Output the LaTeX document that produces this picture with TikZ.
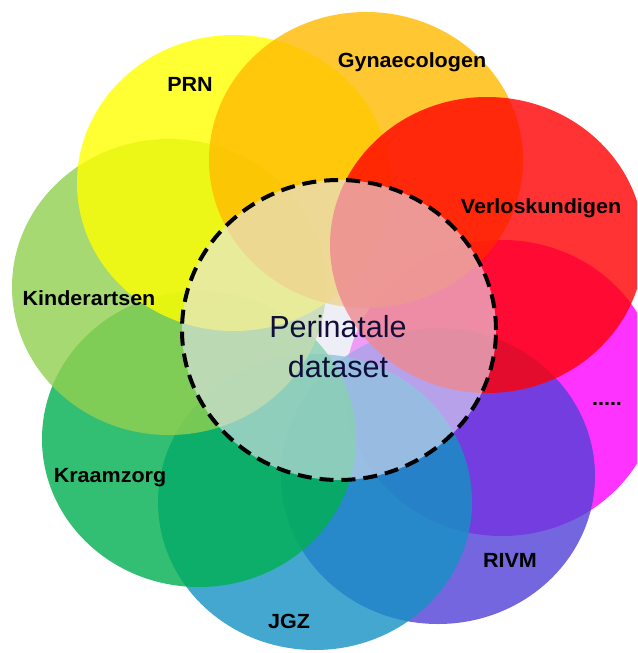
\documentclass[tikz,border=0pt]{standalone}
\usepackage{fontspec}
\setmainfont{Liberation Sans}
\newfontfamily\labfont[FakeStretch=1.05]{Liberation Sans}
\definecolor{cPRN}{RGB}{255,255,0}
\definecolor{cGyn}{RGB}{255,187,0}
\definecolor{cVer}{RGB}{255,0,0}
\definecolor{cMag}{RGB}{255,0,255}
\definecolor{cRIVM}{RGB}{81,64,216}
\definecolor{cJGZ}{RGB}{21,146,196}
\definecolor{cKraam}{RGB}{0,176,80}
\definecolor{cKind}{RGB}{146,208,80}
\definecolor{cOver}{RGB}{228,228,242}
\definecolor{cText}{RGB}{15,15,55}
\tikzset{
  petal/.style={fill=#1, fill opacity=0.8, draw=none},
  lab/.style={font=\labfont\bfseries\fontsize{20.5}{24}\selectfont, text=black, anchor=base, inner sep=0pt},
  centertext/.style={font=\fontsize{30.5}{40}\selectfont, text=cText, align=center, anchor=base, inner sep=0pt}
}
\begin{document}
\begin{tikzpicture}[x=1pt,y=-1pt]
\useasboundingbox (0,0) rectangle (637,653);
\fill[white] (0,0) rectangle (637,653);
\clip (0,0) rectangle (637,653);
% petals, bottom-most first
\fill[petal=cMag]   (502,388) ellipse [x radius=157pt, y radius=148pt];
\fill[petal=cRIVM]  (438,476) ellipse [x radius=157pt, y radius=148pt];
\fill[petal=cJGZ]   (315,502) ellipse [x radius=157pt, y radius=148pt];
\fill[petal=cKraam] (199,439) ellipse [x radius=157pt, y radius=148pt];
\fill[petal=cKind]  (169,287) ellipse [x radius=157pt, y radius=148pt];
\fill[petal=cPRN]   (234,183) ellipse [x radius=157pt, y radius=148pt];
\fill[petal=cGyn]   (366,160) ellipse [x radius=157pt, y radius=148pt];
\fill[petal=cVer]   (487,245) ellipse [x radius=157pt, y radius=148pt];
% central dataset
\fill[cOver, fill opacity=0.6] (339,330) ellipse [x radius=157pt, y radius=150pt];
\draw[black, line width=4pt, dash pattern=on 14pt off 8pt] (339,330) ellipse [x radius=157pt, y radius=150pt];
\node[centertext] (ds1) at (338,337) {Perinatale};
\node[centertext] (ds2) at (338,377) {dataset};
% labels
\node[lab] (prn)  at (190,91)  {PRN};
\node[lab] (gyn)  at (412,67)  {Gynaecologen};
\node[lab] (ver)  at (541,213) {Verloskundigen};
\node[lab] (dots) at (607,405) {.....};
\node[lab] (rivm) at (510,567) {RIVM};
\node[lab] (jgz)  at (289,628) {JGZ};
\node[lab] (kraam) at (110,482) {Kraamzorg};
\node[lab] (kind) at (89,305)  {Kinderartsen};
\end{tikzpicture}
\end{document}
